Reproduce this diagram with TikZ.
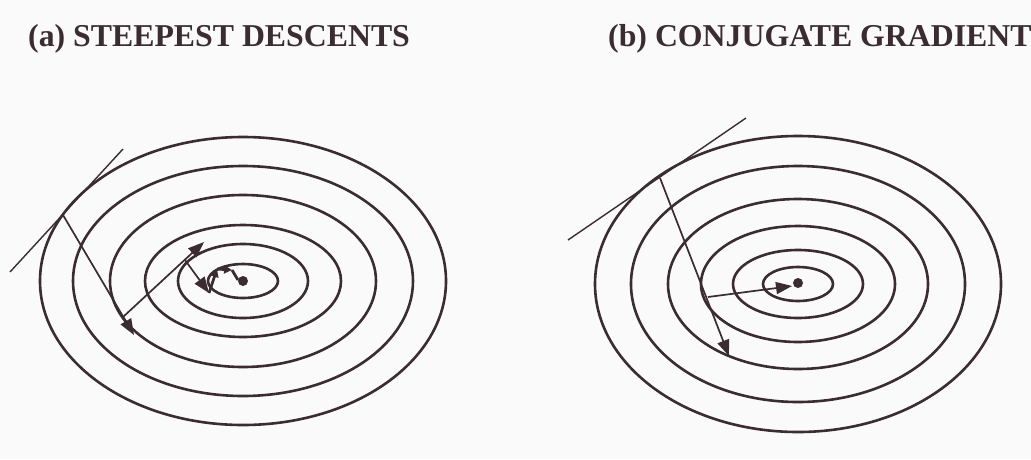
\documentclass[tikz,border=0pt]{standalone}
\usepackage{fontspec}
\setmainfont{Liberation Serif}
\usetikzlibrary{arrows.meta}
\definecolor{ink}{RGB}{58,44,48}
\definecolor{paper}{RGB}{250,250,250}
\tikzset{
  contour/.style={draw=ink, line width=2.6pt},
  tangent/.style={draw=ink, line width=1.4pt},
  descent/.style={draw=ink, line width=1.7pt, -{Triangle[length=16pt,width=12pt]}},
  smallstep/.style={draw=ink, line width=2.8pt, -{Triangle[length=8pt,width=8pt]}},
  title/.style={anchor=base west, inner sep=0pt, text=ink, font=\fontsize{31.8}{36}\selectfont\bfseries}
}
\begin{document}
\begin{tikzpicture}[x=1pt,y=-1pt]
\useasboundingbox (0,0) rectangle (1031,459);
\clip (0,0) rectangle (1031,459);
\fill[paper] (0,0) rectangle (1031,459);
\node[title] (ttlA) at (28,46) {(a) STEEPEST DESCENTS};
\node[title] (ttlB) at (608,46) {(b) CONJUGATE GRADIENT};
% left: steepest descents
\foreach \rx/\ry in {203/144,170/115,133/86,98/56,65/37,35/17}
  \draw[contour] (243,281) ellipse ({\rx} and {\ry});
\coordinate (ltA) at (10,272);  \coordinate (ltB) at (123,149);
\draw[tangent] (ltA) -- (ltB);
\coordinate (sd0) at (63,215);  \coordinate (sd1) at (134,335);
\coordinate (sd2) at (123,317); \coordinate (sd3) at (204,242);
\coordinate (sd4) at (185,260); \coordinate (sd5) at (209,293);
\coordinate (sd6) at (217,269); \coordinate (sd7) at (232,270);
\coordinate (sd8) at (238,280);
\draw[descent] (sd0) -- (sd1);
\draw[descent] (sd2) -- (sd3);
\draw[descent] (sd4) -- (sd5);
\draw[smallstep] (sd5) -- (sd6);
\draw[smallstep] (sd6) -- (sd7);
\draw[draw=ink, line width=2.8pt] (sd7) -- (sd8);
\fill[ink] (243,281) circle (5);
% right: conjugate gradient
\foreach \rx/\ry in {203/148,167/118,130/85,97/58,65/34,35/17}
  \draw[contour] (798,284) ellipse ({\rx} and {\ry});
\coordinate (rtA) at (568,240); \coordinate (rtB) at (746,118);
\draw[tangent] (rtA) -- (rtB);
\coordinate (cg0) at (660,178); \coordinate (cg1) at (729,356);
\coordinate (cg2) at (708,297); \coordinate (cg3) at (792,286);
\draw[descent] (cg0) -- (cg1);
\draw[descent] (cg2) -- (cg3);
\fill[ink] (798,283) circle (5);
\end{tikzpicture}
\end{document}
